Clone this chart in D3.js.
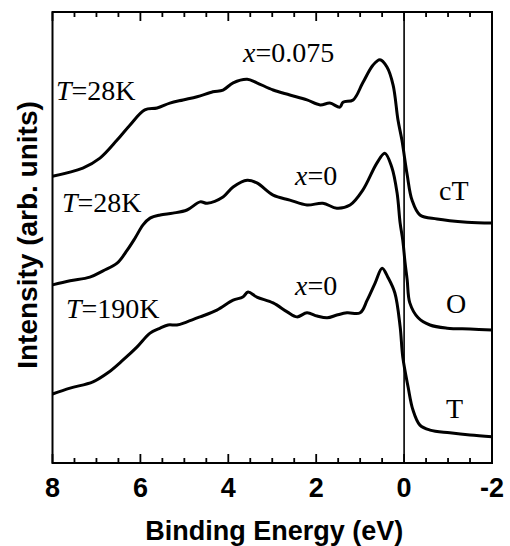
<!DOCTYPE html>
<html>
<head>
<meta charset="utf-8">
<script src="https://cdn.jsdelivr.net/npm/d3@7"></script>
<style>
  body { margin: 0; background: #fff; }
  svg { display: block; }
</style>
</head>
<body>
<div class="chart"></div>
<script>
// binding energy (eV) / intensity (arb. units) pairs
const cTSpectrum = [
  [8.00, 63.6], [7.31, 65.4], [6.92, 67.6], [6.53, 71.6], [6.24, 74.9], [5.90, 78.3],
  [5.62, 78.7], [5.33, 79.8], [5.03, 80.5], [4.71, 81.2], [4.35, 82.3], [4.12, 82.7],
  [3.89, 84.3], [3.57, 85.1], [3.35, 84.3], [2.98, 82.7], [2.60, 81.6], [2.21, 80.5],
  [1.91, 79.4], [1.69, 79.8], [1.46, 78.9], [1.39, 80.0], [1.16, 80.5], [0.94, 84.3],
  [0.71, 88.2], [0.55, 89.4], [0.39, 87.8], [0.25, 83.8], [0.14, 76.1], [0.05, 71.6],
  [-0.07, 63.9], [-0.18, 58.3], [-0.36, 55.0], [-0.75, 54.1], [-1.43, 53.4], [-2.00, 53.2]
];
const oSpectrum = [
  [8.00, 39.5], [7.60, 40.4], [7.15, 41.2], [6.85, 42.6], [6.53, 44.3], [6.30, 47.2],
  [6.12, 49.9], [5.94, 52.8], [5.78, 54.3], [5.55, 55.0], [5.26, 55.4], [4.94, 56.1],
  [4.64, 57.9], [4.48, 57.6], [4.12, 59.0], [3.89, 61.2], [3.57, 62.7], [3.35, 62.1],
  [2.98, 59.4], [2.60, 58.3], [2.21, 57.2], [1.85, 57.6], [1.53, 56.5], [1.23, 57.2],
  [0.94, 60.5], [0.62, 66.5], [0.44, 68.7], [0.28, 65.6], [0.16, 59.9], [0.09, 53.2],
  [0.03, 49.4], [-0.02, 44.6], [-0.07, 40.6], [-0.13, 35.5], [-0.32, 32.2], [-0.59, 30.6],
  [-0.98, 29.9], [-1.50, 29.7], [-2.00, 29.5]
];
const tSpectrum = [
  [8.00, 15.3], [7.60, 16.6], [7.08, 18.0], [6.74, 20.0], [6.40, 22.8], [6.08, 25.7],
  [5.78, 28.8], [5.55, 29.9], [5.37, 30.6], [5.17, 30.6], [4.94, 31.3], [4.64, 32.4],
  [4.26, 33.9], [3.89, 36.1], [3.67, 36.8], [3.55, 37.9], [3.35, 36.8], [2.98, 35.5],
  [2.66, 33.5], [2.44, 32.4], [2.21, 33.3], [1.98, 32.6], [1.75, 32.2], [1.53, 32.8],
  [1.30, 33.3], [1.00, 33.3], [0.84, 36.1], [0.66, 39.9], [0.50, 43.2], [0.37, 41.2],
  [0.21, 37.7], [0.09, 30.2], [0.03, 23.5], [-0.09, 16.9], [-0.20, 11.8], [-0.36, 8.4],
  [-0.59, 7.3], [-1.04, 6.7], [-1.50, 6.2], [-2.00, 5.8]
];
const xTickLabels = [8, 6, 4, 2, 0, -2];
const minorTicks = d3.range(8, -2.01, -0.5);

const width = 510, height = 546;
const margin = { top: 12, right: 18, bottom: 83, left: 52.5 };

const svg = d3.select("div.chart").append("svg")
  .attr("width", width)
  .attr("height", height);

const x = d3.scaleLinear().domain([8, -2]).range([margin.left, width - margin.right]);
const y = d3.scaleLinear().domain([0, 100]).range([height - margin.bottom, margin.top]);

// Fermi level marker
svg.append("line")
  .attr("x1", x(0)).attr("x2", x(0))
  .attr("y1", y(100)).attr("y2", y(0))
  .attr("stroke", "#000")
  .attr("stroke-width", 1.6);

// inward ticks on top and bottom edges
const tickPath = (values, len) => values.map(d =>
  `M${x(d)},${y(0)}v${-len}M${x(d)},${y(100)}v${len}`).join("");

svg.append("path")
  .attr("d", tickPath(minorTicks, 5) + tickPath(xTickLabels, 9))
  .attr("fill", "none")
  .attr("stroke", "#000")
  .attr("stroke-width", 1.8);

// frame
svg.append("rect")
  .attr("x", x(8)).attr("y", y(100))
  .attr("width", x(-2) - x(8)).attr("height", y(0) - y(100))
  .attr("fill", "none")
  .attr("stroke", "#000")
  .attr("stroke-width", 2);

// tick labels
const sans = "'Liberation Sans', Arial, sans-serif";
svg.selectAll("text.xtick")
  .data(xTickLabels)
  .enter().append("text")
  .attr("class", "xtick")
  .attr("x", d => x(d))
  .attr("y", y(0) + 34)
  .attr("text-anchor", "middle")
  .style("font-family", sans)
  .style("font-weight", "bold")
  .style("font-size", "27px")
  .text(d => d);

svg.append("text")
  .attr("x", (x(8) + x(-2)) / 2 + 2)
  .attr("y", 540)
  .attr("text-anchor", "middle")
  .style("font-family", sans)
  .style("font-weight", "bold")
  .style("font-size", "27px")
  .text("Binding Energy (eV)");

svg.append("text")
  .attr("transform", `translate(37,235) rotate(-90)`)
  .attr("text-anchor", "middle")
  .style("font-family", sans)
  .style("font-weight", "bold")
  .style("font-size", "28px")
  .text("Intensity (arb. units)");

// spectra
const line = d3.line()
  .x(d => x(d[0]))
  .y(d => y(d[1]))
  .curve(d3.curveCatmullRom.alpha(0.5));

[cTSpectrum, oSpectrum, tSpectrum].forEach(s => {
  svg.append("path")
    .attr("d", line(s))
    .attr("fill", "none")
    .attr("stroke", "#000")
    .attr("stroke-width", 3)
    .attr("stroke-linejoin", "round");
});

// annotations
const serif = "'Liberation Serif', 'Times New Roman', serif";
function label(px, py, parts) {
  const t = svg.append("text")
    .attr("x", px).attr("y", py)
    .style("font-family", serif)
    .style("font-size", "28px");
  parts.forEach(p => {
    t.append("tspan").style("font-style", p[1] ? "italic" : "normal").text(p[0]);
  });
}

label(56, 100, [["T", true], ["=28K", false]]);
label(243, 62, [["x", true], ["=0.075", false]]);
label(62, 212, [["T", true], ["=28K", false]]);
label(295, 185, [["x", true], ["=0", false]]);
label(66, 318, [["T", true], ["=190K", false]]);
label(295, 295, [["x", true], ["=0", false]]);
label(439, 200, [["cT", false]]);
label(446, 313, [["O", false]]);
label(446, 418, [["T", false]]);
</script>
</body>
</html>
